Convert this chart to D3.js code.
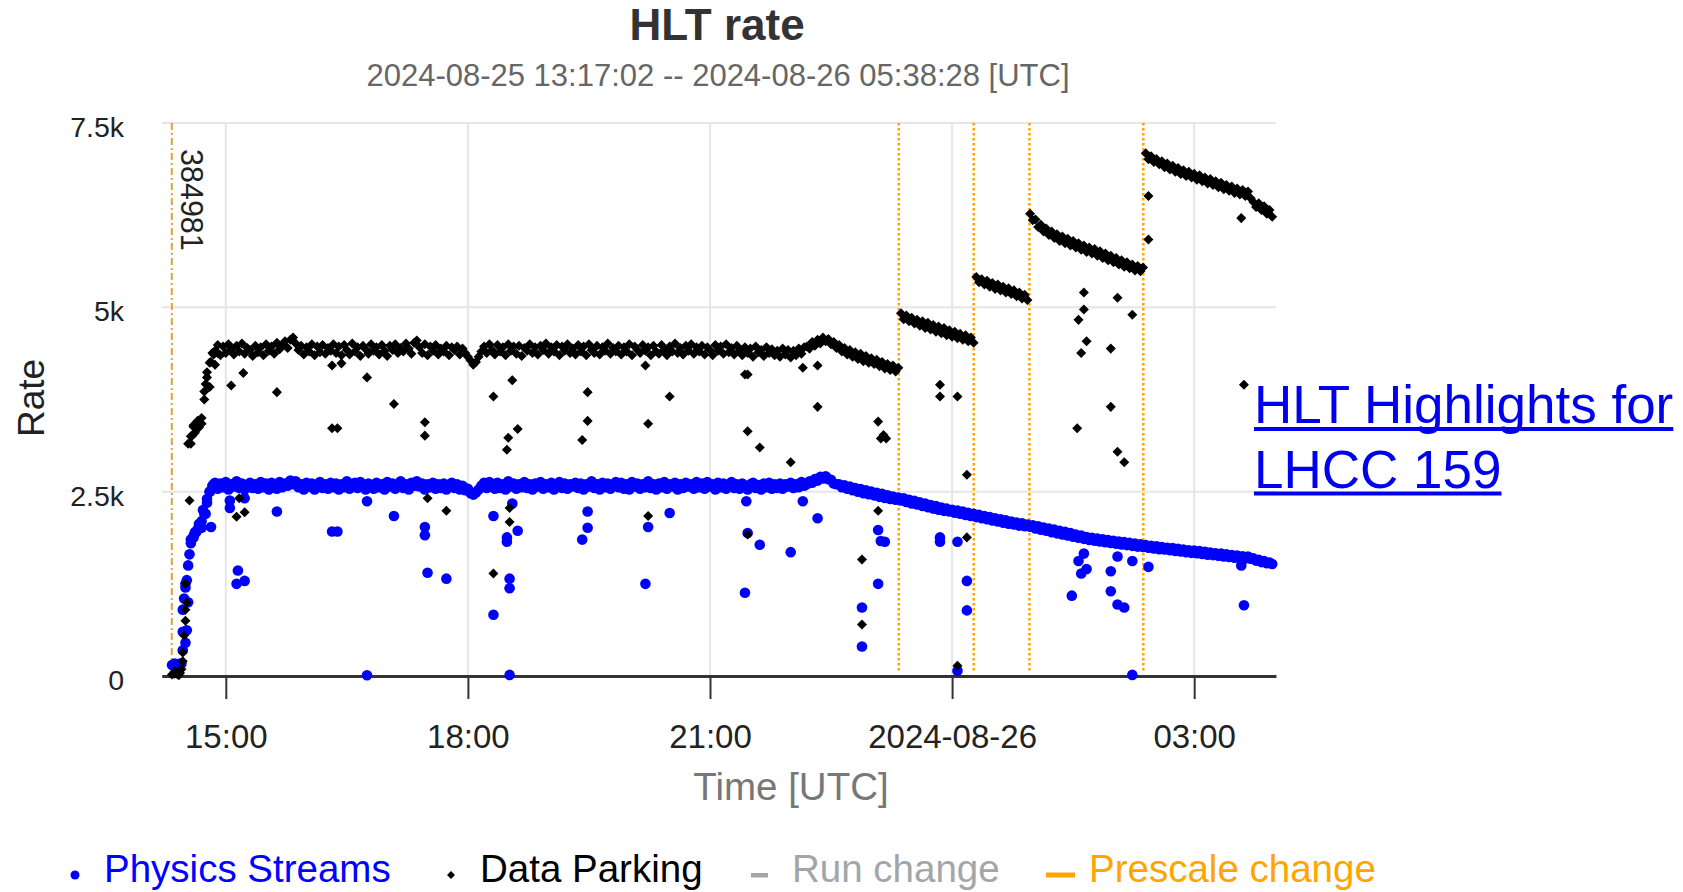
<!DOCTYPE html>
<html>
<head>
<meta charset="utf-8">
<title>HLT rate</title>
<script src="https://cdn.jsdelivr.net/npm/d3@7"></script>
<style>
  html, body { margin: 0; padding: 0; background: #fff; }
  svg { display: block; font-family: "Liberation Sans", Arial, Helvetica, sans-serif; }
</style>
</head>
<body>
<svg id="chart" width="1683" height="892"></svg>
<script>
// ---- Rate samples: one value every 2 minutes, starting at the run start ----
const sampleStart = "2024-08-25T14:20:00Z";
const sampleStepMinutes = 2;

// Physics Streams rate [Hz]
const physicsRates = [
  150,160,150,170,600,1250,1500,1800,1900,1950,2000,2100,2200,2350,2500,2580,
  2620,2540,2610,2560,2630,2530,2600,2570,2640,2550,2610,2530,2590,2620,2550,
  2600,2540,2630,2560,2610,2530,2620,2580,2540,2630,2560,2610,2580,2650,2600,
  2640,2560,2600,2530,2620,2570,2610,2530,2590,2630,2550,2600,2540,2620,2560,
  2610,2530,2600,2560,2640,2540,2590,2620,2550,2630,2570,2530,2610,2580,2540,
  2620,2560,2600,2530,2630,2570,2610,2540,2590,2640,2550,2600,2530,2620,2580,
  2640,2570,2610,2530,2600,2560,2620,2540,2600,2550,2610,2530,2590,2620,2550,
  2600,2530,2580,2520,2540,2480,2460,2490,2530,2580,2620,2550,2630,2570,2540,
  2620,2550,2600,2530,2640,2570,2610,2540,2600,2560,2630,2550,2600,2530,2610,
  2570,2630,2540,2600,2560,2620,2530,2590,2630,2550,2610,2540,2600,2570,2620,
  2550,2610,2530,2600,2570,2640,2550,2600,2530,2620,2560,2610,2540,2590,2630,
  2560,2620,2540,2600,2530,2630,2570,2610,2540,2600,2560,2640,2550,2600,2530,
  2610,2560,2630,2540,2600,2570,2620,2530,2600,2550,2620,2570,2600,2540,2630,
  2560,2610,2540,2630,2570,2600,2530,2620,2560,2610,2540,2590,2630,2550,2600,
  2540,2610,2570,2530,2600,2620,2550,2590,2530,2610,2560,2620,2540,2600,2550,
  2610,2540,2600,2570,2620,2550,2600,2560,2630,2580,
  2600,2640,2620,2670,2650,2700,2680,2710,2670,2660,2610,2600,
  2600,2560,2585,2540,2570,2520,2550,2500,2535,2480,2520,2465,2500,2450,2485,2430,2470,2415,2450,2400,2435,2390,2420,
  2380,2410,2360,2390,2340,2375,2325,2355,2305,2340,2290,2320,2270,2305,2255,2285,2240,2270,2230,2255,
  2215,2245,2200,2230,2185,2215,2170,2200,2155,2185,2140,2170,2125,2155,2110,2140,2095,2125,2080,2110,2065,2095,2055,2080,2040,2070,2030,2055,2025,
  2045,2000,2030,1985,2015,1970,2000,1950,1985,1935,1970,1920,1955,1905,1940,1890,1920,1875,1905,1860,
  1885,1845,1875,1835,1865,1825,1855,1815,1845,1805,1835,1795,1825,1785,1815,1775,1805,1765,1795,1755,1785,1750,
  1775,1740,1765,1730,1760,1720,1750,1715,1740,1705,1735,1695,1725,1690,1715,1680,1705,1670,1700,
  1665,1695,1655,1685,1645,1675,1640,1665,1630,1660,1620,1650,1615,1640,1605,1635,1600,1625,1595,1620,1590,
  1595,1565,1575,1545,1560,1530,1540,1520
];

// Data Parking rate [Hz]
const parkingRates = [
  20,30,25,40,200,900,3150,3250,3400,3350,3450,3500,3750,4050,4250,4380,
  4410,4490,4350,4470,4380,4500,4430,4360,4480,4400,4510,4370,4450,4420,4340,
  4480,4390,4460,4350,4500,4410,4470,4370,4520,4430,4480,4540,4450,4560,4590,
  4510,4420,4480,4360,4460,4400,4500,4350,4470,4390,4490,4370,4450,4410,4500,
  4380,4470,4350,4490,4420,4360,4510,4400,4460,4340,4480,4430,4370,4500,4410,
  4460,4360,4490,4410,4340,4480,4420,4500,4380,4450,4400,4510,4440,4370,4520,
  4550,4460,4380,4500,4350,4470,4410,4490,4360,4440,4400,4480,4350,4460,4420,
  4470,4360,4440,4380,4330,4280,4220,4260,4330,4400,4470,4380,4500,4420,4360,
  4490,4400,4460,4350,4500,4410,4470,4370,4480,4340,4450,4410,4500,4380,4460,
  4360,4480,4420,4510,4370,4460,4400,4490,4350,4470,4410,4500,4380,4440,4360,
  4490,4400,4470,4350,4500,4420,4380,4480,4360,4460,4410,4510,4370,4450,4400,
  4480,4360,4460,4400,4500,4350,4470,4420,4380,4490,4410,4460,4350,4480,4400,
  4370,4490,4420,4350,4470,4400,4510,4380,4450,4360,4480,4410,4500,4370,4460,
  4400,4480,4360,4460,4420,4350,4490,4410,4470,4370,4500,4390,4450,4360,4480,
  4410,4350,4460,4380,4440,4330,4470,4390,4420,4340,4460,4380,4430,4350,4410,
  4330,4440,4360,4420,4320,4410,4350,4440,4370,4460,
  4470,4440,4530,4480,4560,4510,4590,4540,4570,4500,4530,4450,
  4490,4400,4450,4360,4420,4330,4390,4300,4370,4270,4340,4250,4310,4230,4290,4200,4260,4170,4230,4150,4210,4130,4180,
  4920,4840,4890,4810,4860,4780,4830,4750,4810,4720,4790,4700,4760,4670,4740,4650,4720,4620,4690,4600,4670,4580,4640,4560,4620,4540,4590,4520,
  5410,5340,5380,5310,5360,5280,5330,5250,5310,5230,5280,5200,5260,5180,5230,5150,5200,5120,5170,5100,
  6270,6180,6190,6090,6120,6030,6070,5980,6030,5940,5990,5900,5960,5870,5930,5840,5900,5810,5870,5780,5840,5750,
  5810,5730,5790,5700,5760,5670,5730,5640,5700,5610,5670,5580,5640,5550,5610,5530,5580,5500,5560,5490,5540,
  7090,7010,7050,6970,7010,6940,6980,6900,6950,6870,6920,6840,6890,6810,6860,6780,6840,6760,6810,6730,6790,6710,6760,6680,
  6740,6660,6710,6630,6690,6600,6660,6580,6640,6550,6610,6530,6590,6510,6570,6480,6430,6360,6410,6320,6370,6270,6320,6230
];

// Individual readings off the main band: [UTC clock time, rate]
const physicsOutliers = [
  ["14:22",170],["14:25",140],["14:27",170],["14:28",350],["14:28",900],["14:29",1050],["14:30",450],["14:30",1200],
  ["14:31",1300],["14:31",620],["14:32",1000],["14:33",1650],["14:34",1850],["14:36",1880],["14:37",1950],["14:39",1990],
  ["14:40",2060],["14:42",2010],["14:43",2250],["14:45",2200],["14:46",2400],["14:48",2500],["14:49",2020],["14:51",2600],
  ["15:03",2380],["15:03",2280],["15:08",1250],["15:09",1430],["15:14",2410],["15:14",1290],["15:38",2230],
  ["16:19",1960],["16:23",1960],["16:45",2370],["16:45",10],["17:05",2170],["17:28",2020],["17:28",1910],["17:30",1400],
  ["17:44",1320],["18:19",2170],["18:19",830],["18:29",1820],["18:29",1880],["18:31",1320],["18:31",1190],["18:31",15],
  ["18:33",2340],["18:37",1970],["19:25",1850],["19:29",2230],["19:29",2010],["20:12",1250],["20:14",2020],["20:30",2210],
  ["21:26",1130],["21:27",2370],["21:28",1940],["21:37",1780],["22:00",1680],["22:09",2370],["22:20",2140],
  ["22:53",930],["22:53",400],["23:05",1980],["23:05",1250],["23:07",1830],["23:10",1820],["23:51",1880],["23:51",1820],
  ["00:04",1820],["00:04",70],["00:11",1290],["00:11",890],["01:29",1090],["01:34",1560],["01:36",1390],["01:38",1660],
  ["01:40",1450],["01:58",1420],["01:58",1150],["02:03",1620],["02:03",970],["02:08",930],["02:14",1560],["02:14",15],
  ["02:26",1480],["03:35",1500],["03:37",960]
];

const parkingOutliers = [
  ["14:22",60],["14:25",10],["14:27",90],["14:28",320],["14:29",550],["14:30",750],["14:30",1250],["14:31",1000],
  ["14:33",2380],["14:34",3150],["14:35",3260],["14:36",3380],["14:37",3300],["14:39",3460],["14:40",3370],["14:42",3420],
  ["14:44",3860],["14:45",3960],["14:46",4120],["14:48",3920],["14:49",4260],["14:51",4360],["14:52",4220],["14:54",4380],
  ["15:04",3940],["15:08",2160],["15:10",2410],["15:13",4110],["15:14",2220],["15:38",3850],["16:19",4210],["16:19",3360],
  ["16:23",3360],["16:26",4240],["16:45",4050],["17:05",3690],["17:28",3440],["17:28",3260],["17:30",2410],["17:44",2240],
  ["18:19",3790],["18:19",1390],["18:29",3070],["18:30",3230],["18:31",2280],["18:31",2090],["18:33",4010],["18:37",3350],
  ["19:25",3200],["19:29",3850],["19:29",3460],["20:12",4210],["20:14",3420],["20:14",2170],["20:30",3790],
  ["21:26",4090],["21:28",4090],["21:28",3320],["21:28",1920],["21:37",3100],["22:00",2900],["22:09",4180],["22:20",4210],
  ["22:20",3650],["22:53",1580],["22:53",700],["23:05",3450],["23:05",2240],["23:07",3220],["23:09",3270],["23:11",3220],
  ["23:51",3950],["23:51",3790],["00:04",3790],["00:04",140],["00:11",2730],["00:11",1880],["01:33",3360],["01:34",4830],
  ["01:36",4380],["01:38",5200],["01:38",4970],["01:40",4540],["01:58",4440],["01:58",3650],["02:03",5130],["02:03",3040],
  ["02:08",2900],["02:14",4900],["02:26",6510],["02:26",5920],["03:35",6210],["03:37",3950]
];

// Run boundaries and prescale column changes (UTC)
const runChanges = [["14:19:50", "384981"]];
const prescaleChanges = ["23:20:20", "00:16:05", "00:57:30", "02:22:10"];

// Axis definitions
const timeDomain = ["2024-08-25T14:12:20Z", "2024-08-26T04:00:50Z"];
const rateTicks = [0, 2500, 5000, 7500];
const rateTickLabels = ["0", "2.5k", "5k", "7.5k"];
const legendLabels = ["Physics Streams", "Data Parking", "Run change", "Prescale change"];

// ---- helpers ----
// Clock times from noon onwards belong to 2024-08-25, earlier ones to 2024-08-26.
function clock(s) {
  const [h, m, sec] = s.split(":").map(Number);
  return new Date(Date.UTC(2024, 7, h >= 12 ? 25 : 26, h, m, sec || 0));
}

const t0 = new Date(sampleStart).getTime();
const sampleTime = i => new Date(t0 + i * sampleStepMinutes * 60000);

const physicsPoints = physicsRates.map((v, i) => ({ t: sampleTime(i), v }))
  .concat(physicsOutliers.map(([c, v]) => ({ t: clock(c), v })));
const parkingPoints = parkingRates.map((v, i) => ({ t: sampleTime(i), v }))
  .concat(parkingOutliers.map(([c, v]) => ({ t: clock(c), v })));

// ---- layout ----
const plot = { left: 161.7, right: 1276, top: 123, bottom: 676 };
const FONT = '"Liberation Sans", Arial, Helvetica, sans-serif';
const BLUE = "#0000ff", ORANGE = "#ffa500", GRID = "#e6e6e6";

const x = d3.scaleUtc().domain(timeDomain.map(d => new Date(d))).range([plot.left, plot.right]);
const y = d3.scaleLinear().domain([0, 7500]).range([plot.bottom, plot.top]);

const svg = d3.select("#chart");

// Titles
svg.append("text").attr("x", 717).attr("y", 40).attr("text-anchor", "middle")
  .attr("font-size", 44).attr("font-weight", "bold").attr("fill", "#333").text("HLT rate");
svg.append("text").attr("x", 718).attr("y", 86).attr("text-anchor", "middle")
  .attr("font-size", 31).attr("fill", "#666")
  .text("2024-08-25 13:17:02 -- 2024-08-26 05:38:28 [UTC]");

// Grid
const xTicks = d3.utcHour.every(3).range(x.domain()[0], x.domain()[1]);
const grid = svg.append("g");
grid.selectAll("line.h").data(rateTicks.filter(v => v > 0)).join("line")
  .attr("class", "h")
  .attr("x1", plot.left).attr("x2", plot.right)
  .attr("y1", d => y(d)).attr("y2", d => y(d))
  .attr("stroke", GRID).attr("stroke-width", 2);
grid.selectAll("line.v").data(xTicks).join("line")
  .attr("class", "v")
  .attr("x1", d => x(d)).attr("x2", d => x(d))
  .attr("y1", plot.top).attr("y2", plot.bottom)
  .attr("stroke", GRID).attr("stroke-width", 2);

// Y tick labels
svg.append("g").selectAll("text").data(rateTicks).join("text")
  .attr("x", 124).attr("y", d => y(d) + 14)
  .attr("text-anchor", "end").attr("font-size", 28.5).attr("fill", "#222")
  .text((d, i) => rateTickLabels[i]);

// Run change markers
const marks = svg.append("g");
runChanges.forEach(([c, run]) => {
  const xr = x(clock(c));
  marks.append("line").attr("x1", xr).attr("x2", xr).attr("y1", plot.top).attr("y2", plot.bottom)
    .attr("stroke", "#e0a03a").attr("stroke-width", 2).attr("stroke-dasharray", "7,3,2,3");
  marks.append("text").attr("transform", `translate(${xr + 9},${plot.top + 26}) rotate(90)`)
    .attr("font-size", 30.5).attr("fill", "#222").text(run);
});

// Prescale change markers
marks.selectAll("line.ps").data(prescaleChanges).join("line")
  .attr("class", "ps")
  .attr("x1", d => x(clock(d))).attr("x2", d => x(clock(d)))
  .attr("y1", plot.top).attr("y2", plot.bottom - 3)
  .attr("stroke", ORANGE).attr("stroke-width", 2.5).attr("stroke-dasharray", "2.5,2.5");

// X axis
const xAxis = d3.axisBottom(x).tickValues(xTicks).tickSize(23).tickSizeOuter(0)
  .tickFormat(d => d.getUTCHours() === 0 ? d3.utcFormat("%Y-%m-%d")(d) : d3.utcFormat("%H:%M")(d));
const gx = svg.append("g").attr("transform", `translate(0,${plot.bottom})`).call(xAxis)
  .attr("font-family", FONT).attr("font-size", 33);
gx.select(".domain").attr("stroke", "#333").attr("stroke-width", 3);
gx.selectAll(".tick line").attr("stroke", "#333").attr("stroke-width", 2);
gx.selectAll(".tick text").attr("y", 72).attr("dy", null).attr("fill", "#222");

// Axis titles
svg.append("text").attr("x", 791).attr("y", 800).attr("text-anchor", "middle")
  .attr("font-size", 38.5).attr("fill", "#777").text("Time [UTC]");
svg.append("text").attr("transform", "translate(44,398) rotate(-90)").attr("text-anchor", "middle")
  .attr("font-size", 37).attr("fill", "#222").text("Rate");

// Scatter points
const diamondType = d3.symbolDiamond2 || d3.symbolDiamond;
const diamond = d3.symbol().type(diamondType).size(64);
const pts = svg.append("g");
pts.append("g").selectAll("circle").data(physicsPoints).join("circle")
  .attr("cx", d => x(d.t)).attr("cy", d => y(d.v)).attr("r", 5.3).attr("fill", BLUE);
pts.append("g").selectAll("path").data(parkingPoints).join("path")
  .attr("transform", d => `translate(${x(d.t)},${y(d.v)})`)
  .attr("d", diamond).attr("fill", "#000");

// Legend
const lg = svg.append("g").attr("font-size", 38.5);
const legendY = 882;
lg.append("circle").attr("cx", 75).attr("cy", legendY - 7).attr("r", 4.5).attr("fill", BLUE);
lg.append("text").attr("x", 104).attr("y", legendY).attr("fill", BLUE).text(legendLabels[0]);
lg.append("path").attr("transform", `translate(451,${legendY - 7})`)
  .attr("d", d3.symbol().type(diamondType).size(40)).attr("fill", "#000");
lg.append("text").attr("x", 480).attr("y", legendY).attr("fill", "#000").text(legendLabels[1]);
lg.append("rect").attr("x", 751).attr("y", legendY - 9).attr("width", 17).attr("height", 4.5).attr("fill", "#a3a6a9");
lg.append("text").attr("x", 792).attr("y", legendY).attr("fill", "#a3a6a9").text(legendLabels[2]);
lg.append("rect").attr("x", 1046).attr("y", legendY - 9.5).attr("width", 29).attr("height", 5).attr("fill", ORANGE);
lg.append("text").attr("x", 1089).attr("y", legendY).attr("fill", ORANGE).text(legendLabels[3]);

// Link to the highlights page
const link = svg.append("a").attr("href", "#");
["HLT Highlights for", "LHCC 159"].forEach((s, i) => {
  const by = 423 + 64.5 * i;
  const t = link.append("text").attr("x", 1254).attr("y", by)
    .attr("font-size", 53).attr("fill", "#0000ee").text(s);
  const w = t.node().getComputedTextLength();
  link.append("rect").attr("x", 1254).attr("y", by + 4).attr("width", w).attr("height", 4).attr("fill", "#0000ee");
});
</script>
</body>
</html>
